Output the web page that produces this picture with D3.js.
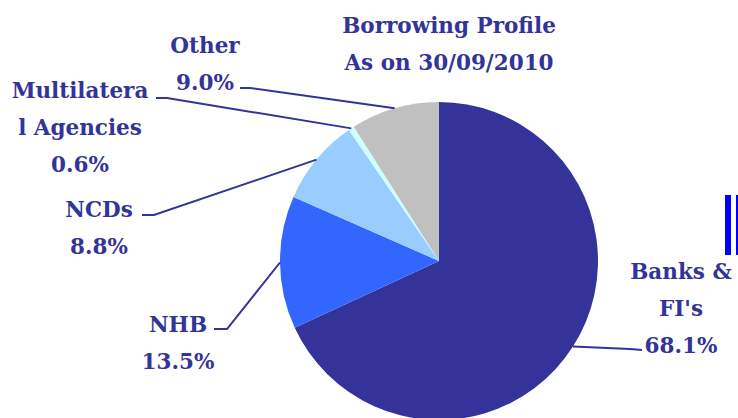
<!DOCTYPE html>
<html>
<head>
<meta charset="utf-8">
<script src="https://cdn.jsdelivr.net/npm/d3@7"></script>
<style>
  body { margin: 0; background: #fff; }
</style>
</head>
<body>
<div id="chart"></div>
<script>
// data
const categories = ["Banks & FI's", "NHB", "NCDs", "Multilateral Agencies", "Other"];
const shares = [68.1, 13.5, 8.8, 0.6, 9.0];
const colours = ["#333399", "#3366ff", "#99ccff", "#ccffff", "#c0c0c0"];
const titleLines = ["Borrowing Profile", "As on 30/09/2010"];
// label text lines as they wrap in the picture
const labelLines = [["Banks &", "FI's"], ["NHB"], ["NCDs"], ["Multilatera", "l Agencies"], ["Other"]];

const width = 738, height = 418;
const cx = 439, cy = 261, radius = 159;
const fontFamily = "'DejaVu Serif', serif";
const fontSize = "21.5px";

// where each label block sits (first baseline, centre x) and where its leader bends
const labelPos = [
    {x: 681, y: 279, elbow: [642, 350], end: [630, 349]},
    {x: 178, y: 332, elbow: [214, 329], end: [227, 329]},
    {x: 99, y: 217, elbow: [142, 215], end: [154, 215]},
    {x: 80, y: 98, elbow: [156, 98], end: [167, 98]},
    {x: 205, y: 53, elbow: [240, 88], end: [250, 88]}
];
const lineGap = 37;

const svg = d3.select("#chart").append("svg")
    .attr("width", width)
    .attr("height", height);

const pie = d3.pie().sort(null).value(d => d);
const arcs = pie(shares);

const arc = d3.arc().innerRadius(0).outerRadius(radius);
const edge = d3.arc().innerRadius(radius).outerRadius(radius);

const g = svg.append("g")
    .attr("transform", "translate(" + cx + "," + cy + ")");

g.selectAll(".slice")
    .data(arcs)
    .enter()
    .append("path")
    .attr("class", "slice")
    .attr("d", arc)
    .attr("fill", (d, i) => colours[i]);

// leader lines
svg.selectAll(".leader")
    .data(arcs)
    .enter()
    .append("polyline")
    .attr("class", "leader")
    .attr("fill", "none")
    .attr("stroke", "#333399")
    .attr("stroke-width", 2)
    .attr("points", (d, i) => {
        let p = edge.centroid(d);
        let lp = labelPos[i];
        return [lp.elbow, lp.end, [p[0] + cx, p[1] + cy]].map(q => q.join(",")).join(" ");
    });

// labels
arcs.forEach((d, i) => {
    let lp = labelPos[i];
    let lines = labelLines[i].concat([shares[i].toFixed(1) + "%"]);
    let t = svg.append("text")
        .attr("class", "label")
        .attr("text-anchor", "middle")
        .attr("font-family", fontFamily)
        .attr("font-weight", "bold")
        .attr("font-size", fontSize)
        .attr("fill", "#333399");
    lines.forEach((s, j) => {
        t.append("tspan")
            .attr("x", lp.x)
            .attr("y", lp.y + j * lineGap)
            .text(s);
    });
});

// title
svg.append("text")
    .attr("text-anchor", "middle")
    .attr("font-family", fontFamily)
    .attr("font-weight", "bold")
    .attr("font-size", fontSize)
    .attr("fill", "#333399")
    .selectAll("tspan")
    .data(titleLines)
    .enter()
    .append("tspan")
    .attr("x", 449)
    .attr("y", (d, i) => 33 + i * 37)
    .text(d => d);

// stray blue bars at the right edge
svg.append("rect").attr("x", 725).attr("y", 195).attr("width", 6).attr("height", 60).attr("fill", "#0000ff");
svg.append("rect").attr("x", 736).attr("y", 195).attr("width", 3).attr("height", 60).attr("fill", "#0000ff");
</script>
</body>
</html>
